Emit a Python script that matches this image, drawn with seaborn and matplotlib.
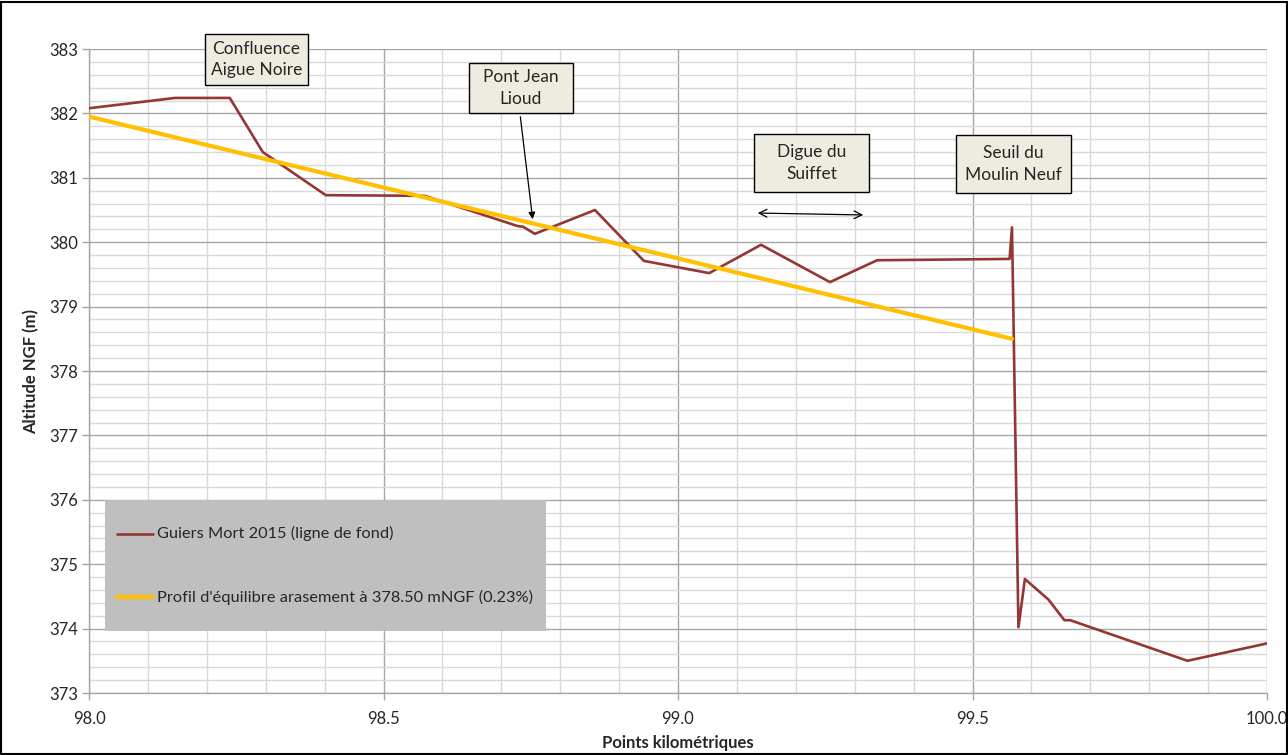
import matplotlib
matplotlib.use("Agg")
import matplotlib.pyplot as plt
import seaborn as sns
import pandas as pd
from matplotlib.patches import Rectangle
from matplotlib.ticker import MultipleLocator, FormatStrFormatter

# ---- data ----
pk_fond = [98.0, 98.146, 98.239, 98.295, 98.402, 98.570, 98.728, 98.737, 98.757,
           98.859, 98.942, 99.053, 99.141, 99.258, 99.338, 99.563, 99.567,
           99.568, 99.578, 99.589, 99.629, 99.656, 99.666, 99.865, 100.0]
alt_fond = [382.08, 382.24, 382.24, 381.40, 380.73, 380.72, 380.25, 380.24, 380.13,
            380.50, 379.71, 379.52, 379.96, 379.38, 379.72, 379.74, 380.23,
            379.70, 374.02, 374.77, 374.45, 374.13, 374.13, 373.50, 373.77]
pk_eq = [98.0, 99.567]
alt_eq = [381.95, 378.50]

label_fond = "Guiers Mort 2015 (ligne de fond)"
label_eq = "Profil d'équilibre arasement à 378.50 mNGF (0.23%)"
xlabel = "Points kilométriques"
ylabel = "Altitude NGF (m)"
notes = ["Confluence\nAigue Noire", "Pont Jean\nLioud", "Digue du\nSuiffet",
         "Seuil du\nMoulin Neuf"]

sns.set_theme(style="white")
plt.rcParams['font.family'] = ['Lato', 'DejaVu Sans']

W, H = 1288, 755
fig = plt.figure(figsize=(W / 100, H / 100), dpi=100)
ax = fig.add_axes([89 / W, 62 / H, (1267 - 89) / W, (693 - 49) / H])

df_fond = pd.DataFrame({"pk": pk_fond, "alt": alt_fond})
df_eq = pd.DataFrame({"pk": pk_eq, "alt": alt_eq})

ax.set_xlim(98.0, 100.0)
ax.set_ylim(373, 383)

# grid
ax.xaxis.set_major_locator(MultipleLocator(0.5))
ax.xaxis.set_minor_locator(MultipleLocator(0.1))
ax.yaxis.set_major_locator(MultipleLocator(1))
ax.yaxis.set_minor_locator(MultipleLocator(0.2))
ax.grid(which="minor", color="#D9D9D9", lw=1.0, zorder=0)
ax.grid(which="major", color="#A6A6A6", lw=1.0, zorder=0)
ax.set_axisbelow(True)

# legend box (gray)
ax.add_patch(Rectangle((98.027, 373.97), 0.749, 2.03, facecolor="#BFBFBF",
                       edgecolor="none", zorder=1))

sns.lineplot(data=df_fond, x="pk", y="alt", sort=False, estimator=None,
             color="#943634", lw=1.9, ax=ax, zorder=3)
sns.lineplot(data=df_eq, x="pk", y="alt", sort=False, estimator=None,
             color="#FFC000", lw=3.0, ax=ax, zorder=4)

# legend content
ax.plot([98.048, 98.109], [375.47, 375.47], color="#943634", lw=1.9, zorder=5)
ax.text(98.115, 375.47, label_fond, fontsize=11.8, va="center", ha="left", zorder=5)
ax.plot([98.048, 98.109], [374.49, 374.49], color="#FFC000", lw=3.0, zorder=5)
ax.text(98.115, 374.49, label_eq, fontsize=11.8, va="center", ha="left", zorder=5)

# spines
for s in ["top", "right"]:
    ax.spines[s].set_visible(False)
for s in ["left", "bottom"]:
    ax.spines[s].set_color("#A6A6A6")
    ax.spines[s].set_linewidth(1.0)

ax.xaxis.set_major_formatter(FormatStrFormatter("%.1f"))
ax.tick_params(axis="both", which="major", length=5, width=1, color="#A6A6A6",
               labelsize=12, direction="out", left=True, bottom=True)
ax.tick_params(axis="y", pad=3)
ax.tick_params(axis="x", pad=8)
ax.tick_params(axis="both", which="minor", length=0)
ax.set_xlabel(xlabel, fontsize=12, fontweight="bold", labelpad=6)
ax.set_ylabel(ylabel, fontsize=12, fontweight="bold", labelpad=7)

# annotation boxes (pixel geometry of the reference)
def px2data(px, py):
    return 98 + (px - 89) / 589.0, 383 - (py - 49) / 64.4

boxes = [(205, 34, 308, 85), (469, 63, 573, 113), (754, 134, 869, 192),
         (956, 135, 1071, 193)]
for txt, (x0, y0, x1, y1) in zip(notes, boxes):
    fig.patches.append(Rectangle((x0 / W, 1 - y1 / H), (x1 - x0) / W, (y1 - y0) / H,
                                 transform=fig.transFigure, facecolor="#EEECE1",
                                 edgecolor="black", lw=1.0, zorder=5))
    fig.text((x0 + x1) / 2 / W, 1 - (y0 + y1) / 2 / H, txt, fontsize=12.5,
             ha="center", va="center", linespacing=1.45, zorder=6)

# arrows
a0 = px2data(520, 114); a1 = px2data(533, 222)
ax.annotate("", xy=a1, xytext=a0,
            arrowprops=dict(arrowstyle="-|>", color="black", lw=0.9,
                            mutation_scale=10), zorder=6)
d0 = px2data(755, 213); d1 = px2data(866, 215)
ax.annotate("", xy=d1, xytext=d0,
            arrowprops=dict(arrowstyle="<->", color="black", lw=0.9,
                            mutation_scale=14), zorder=6)

# figure border
fig.patches.append(Rectangle((0.001, 0.001), 0.998, 0.997, transform=fig.transFigure,
                             fill=False, edgecolor="black", lw=1.5))

fig.savefig("out.png", dpi=100)
